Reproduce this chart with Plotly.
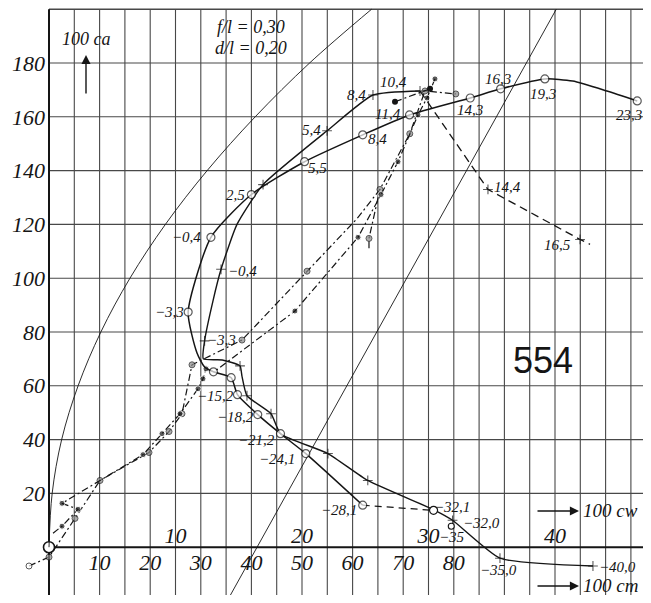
import plotly.graph_objects as go

# ---------------- data ----------------
# polar with open circles: x = 100 cw, y = 100 ca
o_cw = [46.5, 44.1, 41.4, 39.2, 35.7, 33.3, 28.5, 24.8, 20.2, 16.0, 12.8, 11.0,
        11.7, 12.3, 13.0, 14.4, 14.9, 16.5, 18.3, 20.3, 24.8]
o_ca = [165.9, 169.6, 173.3, 174.1, 170.4, 167.0, 160.7, 153.3, 143.3, 131.1, 115.2, 87.4,
        72.2, 67.0, 65.2, 63.0, 56.7, 49.3, 42.2, 34.8, 15.6]
o_mk = [1, 0, 0, 1, 1, 1, 1, 1, 1, 1, 1, 1, 0, 0, 1, 1, 1, 1, 1, 1, 1]
o_lbl = ["23,3", "", "", "19,3", "16,3", "14,3", "11,4", "8,4", "5,5", "2,5", "−0,4", "−3,3",
         "", "", "", "", "−15,2", "−18,2", "−21,2", "−24,1", "−28,1"]
o_jump_cw = [24.8, 30.4]
o_jump_ca = [15.6, 13.7]
o_jump_lbl = ["", "−32,1"]
o_extra_cw = [31.8]
o_extra_ca = [7.8]
o_extra_lbl = ["−35"]

# polar with crosses: x = 100 cw, y = 100 ca
p_cw = [43.0, 35.65, 31.9, 30.5, 25.2, 22.05, 18.3, 17.55, 15.65, 15.25, 15.1, 13.7,
        12.2, 12.3, 12.96, 13.6, 14.86, 16.92, 21.98, 25.61, 29.33]
p_ca = [-7.0, -4.1, 10.0, 13.7, 24.8, 34.8, 42.2, 49.6, 56.3, 63.7, 67.4, 69.6,
        70.0, 76.7, 91.5, 103.3, 120.0, 134.8, 154.8, 168.1, 169.6]
p_mk = [1, 1, 1, 0, 1, 1, 0, 1, 1, 0, 1, 0, 0, 1, 0, 1, 0, 1, 1, 1, 1]
p_lbl = ["−40,0", "−35,0", "−32,0", "", "", "", "", "", "", "", "", "",
         "", "−3,3", "", "−0,4", "", "", "5,4", "8,4", "10,4"]
p_tail_cw = [29.33, 34.7, 41.98, 42.77]
p_tail_ca = [169.6, 133.0, 114.4, 112.6]
p_tail_mk = [0, 1, 1, 0]
p_tail_lbl = ["", "14,4", "16,5", ""]

# moment curves: x = 100 cm, y = 100 ca
h_cm = [-3.95, 0.0, 5.14, 10.08, 19.76, 23.72, 26.28, 28.26, 38.14, 51.0, 60.9, 65.4, 71.3, 74.3, 80.4]
h_ca = [-7.0, -3.7, 10.7, 24.8, 35.2, 43.0, 49.6, 67.8, 77.0, 102.6, 122.2, 133.0, 153.7, 169.6, 168.5]
h_mk = [2, 1, 1, 1, 1, 1, 1, 1, 1, 1, 0, 1, 1, 1, 1]
f_cm = [0.79, 2.57, 5.73, 2.57, 10.08, 18.58, 22.33, 25.89, 29.45, 30.43, 31.03, 32.61,
        48.6, 61.07, 65.61, 68.97, 72.92, 74.7, 76.28]
f_ca = [5.2, 7.8, 14.1, 16.3, 24.8, 34.4, 42.2, 49.6, 58.9, 62.6, 66.3, 65.2,
        87.8, 115.2, 131.1, 143.3, 160.7, 167.0, 174.1]
f_mk = [0, 1, 1, 1, 0, 1, 1, 1, 1, 1, 1, 0, 1, 1, 1, 1, 1, 1, 1]
f2_cm = [68.38, 75.3]
f2_ca = [165.6, 170.4]
h2_cm = [63.24, 63.24, 65.4]
h2_ca = [111.1, 114.8, 133.0]
h2_mk = [0, 1, 0]

# thin reference curves (x = 100 cw)
par_ca = [0, 20, 40, 60, 80, 100, 120, 140, 160, 180, 200]
par_cw = [0, 0.25, 1.0, 2.3, 4.1, 6.4, 9.2, 12.5, 16.3, 20.6, 25.5]
sl_cw = [14.0, 40.1]
sl_ca = [-20.7, 200]

ca_ticks = [20, 40, 60, 80, 100, 120, 140, 160, 180]
cm_ticks = [10, 20, 30, 40, 50, 60, 70, 80]
cw_ticks = [10, 20, 30, 40]

# ---------------- layout constants ----------------
# the page body keeps an 8px margin on every side, so the figure is drawn smaller
OFF = 8
W, H = 651 - 2 * OFF, 603 - 2 * OFF
PX_PER_CM = 5.06
PX_PER_CA = 2.7
X_AXIS_PX = 49          # reference pixel of cm = 0
Y_ZERO_PX = 547         # reference pixel of ca = 0
CM_RANGE = [(OFF - X_AXIS_PX) / PX_PER_CM, (OFF + W - X_AXIS_PX) / PX_PER_CM]
CW_RANGE = [CM_RANGE[0] / 2.5, CM_RANGE[1] / 2.5]
CA_RANGE = [(Y_ZERO_PX - OFF - H) / PX_PER_CA, 200.45]
INK = "#151515"
GRID = "#484848"
SERIF = "Liberation Serif"

def px(x, y):
    """reference-pixel position -> paper fraction"""
    return (x - OFF) / W, 1 - (y - OFF) / H

fig = go.Figure()

def sizes(mk, s):
    return [s if m else 0 for m in mk]

# thin curves
fig.add_trace(go.Scatter(x=par_cw, y=par_ca, xaxis="x2", mode="lines",
                         line=dict(color=INK, width=0.9, shape="spline", smoothing=1.0)))
fig.add_trace(go.Scatter(x=sl_cw, y=sl_ca, xaxis="x2", mode="lines",
                         line=dict(color=INK, width=0.9)))

# moment curves
DD = "7px,3px,2px,3px"
fig.add_trace(go.Scatter(x=h_cm, y=h_ca, mode="lines+markers",
                         line=dict(color=INK, width=1.2, dash=DD),
                         marker=dict(size=[0 if m == 0 else 6 for m in h_mk],
                                     color=["white" if m == 2 else "#8a8a8a" for m in h_mk],
                                     line=dict(color=INK, width=1))))
fig.add_trace(go.Scatter(x=h2_cm, y=h2_ca, mode="lines+markers",
                         line=dict(color=INK, width=1.2, dash=DD),
                         marker=dict(size=sizes(h2_mk, 6), color="#8a8a8a",
                                     line=dict(color=INK, width=1))))
fig.add_trace(go.Scatter(x=f_cm, y=f_ca, mode="lines+markers",
                         line=dict(color=INK, width=1.2, dash=DD),
                         marker=dict(size=sizes(f_mk, 6), color=INK)))
fig.add_trace(go.Scatter(x=f2_cm, y=f2_ca, mode="lines+markers",
                         line=dict(color=INK, width=1.2, dash=DD),
                         marker=dict(size=6, color=INK)))

# polars
fig.add_trace(go.Scatter(x=p_cw, y=p_ca, xaxis="x2", mode="lines+markers",
                         line=dict(color=INK, width=1.4, shape="spline", smoothing=0.5),
                         marker=dict(symbol="cross-thin", size=sizes(p_mk, 7),
                                     line=dict(color=INK, width=1.1))))
fig.add_trace(go.Scatter(x=p_tail_cw, y=p_tail_ca, xaxis="x2", mode="lines+markers",
                         line=dict(color=INK, width=1.3, dash="8px,5px"),
                         marker=dict(symbol="cross-thin", size=sizes(p_tail_mk, 7),
                                     line=dict(color=INK, width=1.1))))
fig.add_trace(go.Scatter(x=o_jump_cw, y=o_jump_ca, xaxis="x2", mode="lines",
                         line=dict(color=INK, width=1.2, dash="7px,5px")))
fig.add_trace(go.Scatter(x=o_cw, y=o_ca, xaxis="x2", mode="lines+markers",
                         line=dict(color=INK, width=1.5, shape="spline", smoothing=0.6),
                         marker=dict(size=sizes(o_mk, 8), color="white",
                                     line=dict(color=INK, width=1.2))))
fig.add_trace(go.Scatter(x=o_jump_cw[1:], y=o_jump_ca[1:], xaxis="x2", mode="markers",
                         marker=dict(size=8, color="white", line=dict(color=INK, width=1.2))))
fig.add_trace(go.Scatter(x=o_extra_cw, y=o_extra_ca, xaxis="x2", mode="markers",
                         marker=dict(size=6, color="white", line=dict(color=INK, width=1.1))))
# origin
fig.add_trace(go.Scatter(x=[0], y=[0], mode="markers", cliponaxis=False,
                         marker=dict(size=11, color="white", line=dict(color=INK, width=1.6))))

# ---------------- grid (drawn in data space) ----------------
shapes = []
for v in range(5, 120, 5):
    shapes.append(dict(type="line", xref="x", yref="y", x0=v, x1=v, y0=CA_RANGE[0], y1=200,
                       line=dict(color=GRID, width=1.1), layer="below"))
for v in range(20, 201, 20):
    shapes.append(dict(type="line", xref="x", yref="y", x0=0, x1=CM_RANGE[1], y0=v, y1=v,
                       line=dict(color=GRID, width=1.4 if v == 200 else 1.1), layer="below"))
shapes.append(dict(type="line", xref="x", yref="y", x0=0, x1=CM_RANGE[1], y0=0, y1=0,
                   line=dict(color=INK, width=2), layer="below"))
shapes.append(dict(type="line", xref="x", yref="y", x0=0, x1=0, y0=CA_RANGE[0], y1=200,
                   line=dict(color=INK, width=2), layer="below"))

# ---------------- annotations ----------------
ann = []
LBL_FONT = dict(family=SERIF, size=15, color=INK, style="italic")

OFF_O = {"23,3": (-8, -14), "19,3": (-2, -15), "16,3": (-3, 10), "14,3": (0, -12),
         "11,4": (-22, 1), "8,4": (15, -4), "5,5": (13, -6), "2,5": (-16, 0),
         "−0,4": (-24, 0), "−3,3": (-19, 0), "−15,2": (-22, -1), "−18,2": (-22, -2),
         "−21,2": (-24, -6), "−24,1": (-29, -5), "−28,1": (-24, -5), "−32,1": (18, 3),
         "−35": (1, -11)}
OFF_P = {"−40,0": (25, -1), "−35,0": (-1, -12), "−32,0": (29, -3), "−3,3": (17, 1),
         "−0,4": (21, -2), "5,4": (-16, 1), "8,4": (-16, 0), "10,4": (-27, 9),
         "14,4": (20, 2), "16,5": (-23, -6)}

def add_labels(xs, ys, labels, offs):
    for x, y, t in zip(xs, ys, labels):
        if not t:
            continue
        dx, dy = offs[t]
        ann.append(dict(x=x, y=y, xref="x2", yref="y", text=t, showarrow=False,
                        xshift=dx, yshift=dy, font=LBL_FONT))

add_labels(o_cw, o_ca, o_lbl, OFF_O)
add_labels(o_jump_cw, o_jump_ca, o_jump_lbl, OFF_O)
add_labels(o_extra_cw, o_extra_ca, o_extra_lbl, OFF_O)
add_labels(p_cw, p_ca, p_lbl, OFF_P)
add_labels(p_tail_cw, p_tail_ca, p_tail_lbl, OFF_P)

def ptxt(x, y, t, size, anchor="center", family=SERIF, style="italic"):
    X, Y = px(x, y)
    ann.append(dict(x=X, y=Y, xref="paper", yref="paper", text=t, showarrow=False,
                    xanchor=anchor, yanchor="middle",
                    font=dict(family=family, size=size, color=INK, style=style)))

def parrow(x_tip, y_tip, ax, ay):
    X, Y = px(x_tip, y_tip)
    ann.append(dict(x=X, y=Y, xref="paper", yref="paper", text="", showarrow=True,
                    ax=ax, ay=ay, axref="pixel", ayref="pixel", arrowhead=2,
                    arrowsize=1.3, arrowwidth=1.4, arrowcolor=INK))

ptxt(86, 39, "100 ca", 18)
parrow(86, 55, 0, 40)
ptxt(251, 27, "f/l = 0,30", 18)
ptxt(251, 48, "d/l = 0,20", 18)
ptxt(543, 360, "554", 36, family="Liberation Sans", style="normal")
parrow(579, 511, -43, 0)
ptxt(581, 510, "100 cw", 19, anchor="left")
parrow(579, 586, -43, 0)
ptxt(581, 585, "100 cm", 19, anchor="left")

TICK_FONT = dict(family=SERIF, size=22, color=INK, style="italic")
X_AXIS_POS = px(0, Y_ZERO_PX)[1]

fig.update_layout(
    width=W, height=H, margin=dict(l=0, r=0, t=0, b=0),
    paper_bgcolor="white", plot_bgcolor="white", showlegend=False,
    shapes=shapes, annotations=ann,
    xaxis=dict(range=CM_RANGE, showgrid=False, zeroline=False, showline=False,
               anchor="free", position=X_AXIS_POS, side="bottom",
               tickmode="array", tickvals=cm_ticks, ticktext=[str(v) for v in cm_ticks],
               ticks="", tickfont=TICK_FONT, automargin=False, fixedrange=True),
    xaxis2=dict(range=CW_RANGE, overlaying="x", showgrid=False, zeroline=False, showline=False,
                anchor="free", position=X_AXIS_POS, side="top",
                tickmode="array", tickvals=cw_ticks, ticktext=[str(v) for v in cw_ticks],
                ticks="", tickfont=TICK_FONT, automargin=False, fixedrange=True),
    yaxis=dict(range=CA_RANGE, showgrid=False, zeroline=False, showline=False,
               anchor="free", position=px(X_AXIS_PX, 0)[0], side="left",
               tickmode="array", tickvals=ca_ticks, ticktext=[str(v) for v in ca_ticks],
               ticks="", ticklabelstandoff=4, tickfont=TICK_FONT,
               automargin=False, fixedrange=True),
)

fig.write_html("out.html")
